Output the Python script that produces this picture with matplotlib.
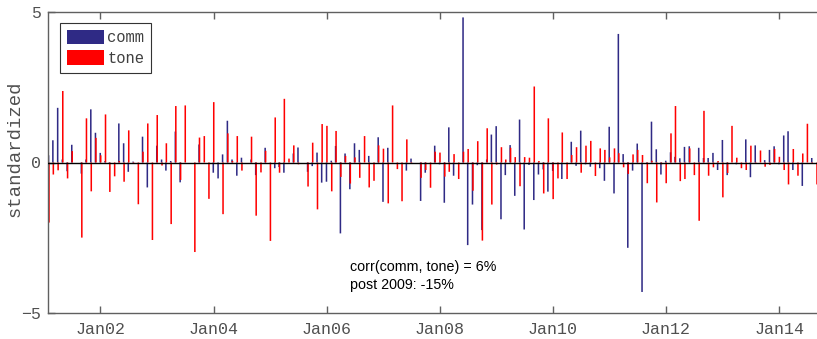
import numpy as np
import pandas as pd
import matplotlib
matplotlib.use('Agg')
import matplotlib.pyplot as plt
import matplotlib.dates as mdates

# monthly observations, Feb 2001 - Sep 2014
months = pd.date_range('2001-02-01', periods=164, freq='MS')

comm = [0.24, 0.74, 1.82, 0.10, -0.29, 0.59, 0.00, -0.37, 0.10, 1.77,
        0.99, 0.32, 0.05, -0.05, 0.00, 1.30, 0.64, -0.31, 0.03, 0.00,
        0.86, -0.83, 0.00, 0.56, 0.10, -0.27, 0.05, 1.03, -0.66, 0.00,
        0.00, 0.00, 0.60, 0.00, 0.00, -0.34, -0.53, 0.27, 1.39, 0.10,
        -0.44, 0.16, 0.00, 0.10, -0.42, 0.00, 0.49, 0.00, -0.19, -0.15,
        -0.34, 0.00, 0.30, 0.50, 0.00, -0.31, -0.12, 0.33, -0.67, -0.64,
        0.06, 0.55, -2.36, 0.30, -0.89, 0.64, 0.42, 0.00, 0.22, 0.00,
        0.84, -1.31, 0.49, 0.00, 0.00, 0.00, -0.27, 0.13, 0.00, -1.28,
        -0.34, 0.00, 0.56, -0.06, -1.34, 1.17, -0.44, 0.00, 4.83, -2.75,
        -1.40, -0.09, -2.25, 0.10, 0.93, 1.21, -1.89, -0.42, 0.58, -1.11,
        1.43, -2.23, -0.08, -1.25, -0.40, -0.23, -0.97, -0.28, 0.00, -0.55,
        0.00, 0.69, -0.11, 1.06, -0.06, -0.14, 0.00, -0.19, -0.61, 1.19,
        -1.03, 4.28, 0.28, -2.84, -0.27, 0.63, -4.31, -0.05, 1.36, 0.44,
        -0.40, 0.06, 0.34, 0.19, 0.14, 0.52, 0.54, 0.00, 0.49, 0.15,
        0.15, 0.32, -0.25, 0.75, -0.42, 0.00, -0.06, 0.00, 0.77, -0.49,
        0.57, 0.00, 0.08, 0.42, 0.54, -0.06, 0.90, 1.04, -0.25, 0.00,
        -0.78, 0.00, 0.15, 0.00]

tone = [-2.00, -0.40, -0.26, 2.38, -0.53, 0.38, 0.00, -2.50, 1.47, -0.96,
        0.82, 0.24, 1.60, -0.98, -0.46, 0.05, -0.64, 1.07, -0.05, -1.39,
        0.36, 1.30, -2.58, 1.58, -0.10, 0.64, -2.05, 1.88, -0.58, 1.90,
        0.00, -2.98, 0.83, 0.88, -1.21, 2.01, 0.00, -1.72, 0.97, 0.05,
        0.88, -0.27, 0.00, 0.86, -1.77, -0.33, 0.39, -2.61, 1.50, -0.34,
        2.12, 0.13, 0.57, -0.06, 0.00, -0.80, 0.66, -1.56, 1.28, 1.22,
        -0.96, 1.05, -0.48, 0.22, -0.70, 0.17, -0.51, 0.88, -0.83, -0.61,
        0.57, 0.46, -1.36, 1.90, -0.22, -1.29, 0.77, -0.03, 0.00, -0.51,
        -0.25, -0.84, 0.36, 0.33, -0.47, -0.31, 0.28, -0.55, 0.36, 0.45,
        -0.94, 0.71, -2.60, 1.14, -1.40, -0.07, 0.51, 0.10, 0.49, 0.18,
        -0.79, 0.18, 0.16, 2.53, 0.05, -1.03, 1.47, -1.22, -0.53, 1.00,
        -0.55, 0.25, 0.51, -0.34, 0.56, 0.72, -0.45, 0.47, 0.42, 0.17,
        0.47, 0.31, -0.16, -0.38, 0.27, 0.42, 0.25, -0.69, 0.06, -1.33,
        -0.06, -0.69, 0.97, 1.88, -0.62, -0.55, 0.47, -0.42, -1.94, 1.72,
        -0.44, -0.16, 0.05, -1.16, -0.35, 1.22, 0.16, -0.19, -0.25, 0.56,
        0.02, 0.40, -0.14, -0.08, 0.45, 0.19, -0.25, -0.73, 0.45, -0.44,
        0.30, 1.29, -0.03, -0.73]

tick_dates = pd.to_datetime(['2002-01-01', '2004-01-01', '2006-01-01', '2008-01-01',
                             '2010-01-01', '2012-01-01', '2014-01-01'])
tick_labels = ['Jan02', 'Jan04', 'Jan06', 'Jan08', 'Jan10', 'Jan12', 'Jan14']

mono = 'Liberation Mono'
gray = '#606060'

fig = plt.figure(figsize=(8.17, 3.39), dpi=100)
ax = fig.add_axes([48.3/817, 1-312.7/339, (817-48.3)/817 + 0.002, 300.4/339])

x = mdates.date2num(months)
b1 = ax.bar(x - 1.5, comm, width=10, color='#2F2A85', linewidth=0, label='comm')
b2 = ax.bar(x + 1.5, tone, width=10, color='#FF0000', linewidth=0, label='tone')
for p in list(b1) + list(b2):
    p.set_snap(False)
ax.axhline(0, color='black', lw=1.0, zorder=4)

ax.set_xlim(x[0] - 3, x[0] - 3 + 4975)
ax.set_ylim(-5, 5)
ax.set_yticks([-5, 0, 5])
ax.set_xticks(mdates.date2num(tick_dates))
ax.set_xticklabels(tick_labels)

for s in ax.spines.values():
    s.set_color(gray)
    s.set_linewidth(1.0)
ax.spines['right'].set_visible(False)

ax.tick_params(direction='in', length=4.8, width=1.0, color=gray, top=True, right=False,
               labelcolor='#505050', labelsize=12.0)
ax.tick_params(axis='x', pad=6.5)
ax.tick_params(axis='y', pad=5.5)
for lab in ax.get_xticklabels() + ax.get_yticklabels():
    lab.set_fontfamily(mono)

ax.set_ylabel('standardized', family=mono, fontsize=13.6, color='#505050')
ax.yaxis.set_label_coords(-0.0325, 0.547)

leg = ax.legend(loc='upper left', bbox_to_anchor=(0.0152, 0.9644), borderaxespad=0,
                prop={'family': mono, 'size': 11.2}, handlelength=2.4, handleheight=1.05,
                labelspacing=0.33, borderpad=0.44, handletextpad=0.2,
                fancybox=False, edgecolor='#333333', framealpha=1)
leg.get_frame().set_linewidth(0.8)
for t in leg.get_texts():
    t.set_color('#404040')

ax.text(0.3916, 0.152, 'corr(comm, tone) = 6%', transform=ax.transAxes,
        family='Liberation Sans', fontsize=10.3, va='center', ha='left')
ax.text(0.3916, 0.092, 'post 2009: -15%', transform=ax.transAxes,
        family='Liberation Sans', fontsize=10.3, va='center', ha='left')

fig.savefig('out.png', dpi=100)
